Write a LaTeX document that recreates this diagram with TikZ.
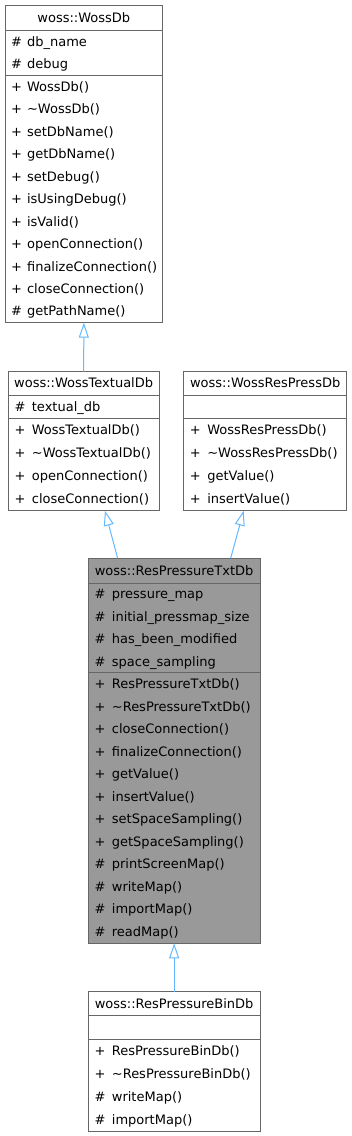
\documentclass[tikz,border=0pt]{standalone}
\usepackage{fontspec}
\setmainfont{DejaVu Sans}
\usetikzlibrary{positioning, arrows.meta}

\definecolor{borde}{HTML}{666666}
\definecolor{herencia}{HTML}{63B8FF}
\definecolor{resaltado}{HTML}{999999}

\tikzset{
	clase/.style={draw=borde, fill=white, anchor=north west, inner sep=0pt, outer sep=0pt, line width=1pt},
	division/.style={draw=borde, line width=1pt},
	titulo/.style={anchor=base, inner sep=0pt, font=\fontsize{13}{15}\selectfont},
	miembro/.style={anchor=base west, inner sep=0pt, font=\fontsize{13}{15}\selectfont},
	hereda/.style={draw=herencia, line width=1pt, -{Triangle[open, fill=white, length=15pt, width=10pt]}}
}

\begin{document}
\begin{tikzpicture}[x=1pt, y=-1pt]
	\useasboundingbox (0,0) rectangle (352,1136);

	% woss::WossDb
	\node[clase, minimum width=157.7, minimum height=317.7] (wossdb) at (5,5) {};
	\draw[division] ([yshift=-25.7]wossdb.north west) -- ([yshift=-25.7]wossdb.north east);
	\draw[division] ([yshift=-70.7]wossdb.north west) -- ([yshift=-70.7]wossdb.north east);
	\node[titulo] (wossdb-t) at ([yshift=-17.35]wossdb.north) {woss::WossDb};
	\foreach \s/\t [count=\i] in {\#/db\_name, \#/debug} {
		\node[miembro] (wossdb-a\i) at ([xshift=6, yshift={-(25.7+(\i-0.5)*22.5+4.5)}]wossdb.north west) {\s\hspace{5pt}\t};
	}
	\foreach \s/\t [count=\i] in {+/WossDb(), +/\textasciitilde WossDb(), +/setDbName(), +/getDbName(),
		+/setDebug(), +/isUsingDebug(), +/isValid(), +/openConnection(), +/finalizeConnection(),
		+/closeConnection(), \#/getPathName()} {
		\node[miembro] (wossdb-m\i) at ([xshift=6, yshift={-(70.7+(\i-0.5)*22.45+4.5)}]wossdb.north west) {\s\hspace{5pt}\t};
	}

	% woss::WossTextualDb
	\node[clase, minimum width=150.7, minimum height=139] (textual) at (8.3,371.7) {};
	\draw[division] ([yshift=-23.3]textual.north west) -- ([yshift=-23.3]textual.north east);
	\draw[division] ([yshift=-46.6]textual.north west) -- ([yshift=-46.6]textual.north east);
	\node[titulo] (textual-t) at ([yshift=-16.15]textual.north) {woss::WossTextualDb};
	\node[miembro] (textual-a1) at ([xshift=6, yshift={-(23.3+11.65+4.5)}]textual.north west) {\#\hspace{6.5pt}textual\_db};
	\foreach \s/\t [count=\i] in {+/WossTextualDb(), +/\textasciitilde WossTextualDb(),
		+/openConnection(), +/closeConnection()} {
		\node[miembro] (textual-m\i) at ([xshift=6, yshift={-(46.6+(\i-0.5)*23.1+4.5)}]textual.north west) {\s\hspace{6.5pt}\t};
	}

	% woss::WossResPressDb
	\node[clase, minimum width=163, minimum height=139] (respress) at (183.7,371.7) {};
	\draw[division] ([yshift=-23.3]respress.north west) -- ([yshift=-23.3]respress.north east);
	\draw[division] ([yshift=-46.6]respress.north west) -- ([yshift=-46.6]respress.north east);
	\node[titulo] (respress-t) at ([yshift=-16.15]respress.north) {woss::WossResPressDb};
	\foreach \s/\t [count=\i] in {+/WossResPressDb(), +/\textasciitilde WossResPressDb(),
		+/getValue(), +/insertValue()} {
		\node[miembro] (respress-m\i) at ([xshift=6, yshift={-(46.6+(\i-0.5)*23.1+4.5)}]respress.north west) {\s\hspace{6.5pt}\t};
	}

	% woss::ResPressureTxtDb (resaltada)
	\node[clase, fill=resaltado, minimum width=171.7, minimum height=385] (rptxt) at (88.3,558.3) {};
	\draw[division] ([yshift=-25]rptxt.north west) -- ([yshift=-25]rptxt.north east);
	\draw[division] ([yshift=-114.4]rptxt.north west) -- ([yshift=-114.4]rptxt.north east);
	\node[titulo] (rptxt-t) at ([yshift=-17]rptxt.north) {woss::ResPressureTxtDb};
	\foreach \s/\t [count=\i] in {\#/pressure\_map, \#/initial\_pressmap\_size,
		\#/has\_been\_modified, \#/space\_sampling} {
		\node[miembro] (rptxt-a\i) at ([xshift=6, yshift={-(25+(\i-0.5)*22.35+4.5)}]rptxt.north west) {\s\hspace{6.5pt}\t};
	}
	\foreach \s/\t [count=\i] in {+/ResPressureTxtDb(), +/\textasciitilde ResPressureTxtDb(),
		+/closeConnection(), +/finalizeConnection(), +/getValue(), +/insertValue(),
		+/setSpaceSampling(), +/getSpaceSampling(), \#/printScreenMap(), \#/writeMap(),
		\#/importMap(), \#/readMap()} {
		\node[miembro] (rptxt-m\i) at ([xshift=6, yshift={-(114.4+(\i-0.5)*22.55+4.5)}]rptxt.north west) {\s\hspace{6.5pt}\t};
	}

	% woss::ResPressureBinDb
	\node[clase, minimum width=171.7, minimum height=140] (rpbin) at (88.3,991.7) {};
	\draw[division] ([yshift=-24]rpbin.north west) -- ([yshift=-24]rpbin.north east);
	\draw[division] ([yshift=-47.3]rpbin.north west) -- ([yshift=-47.3]rpbin.north east);
	\node[titulo] (rpbin-t) at ([yshift=-16.5]rpbin.north) {woss::ResPressureBinDb};
	\foreach \s/\t [count=\i] in {+/ResPressureBinDb(), +/\textasciitilde ResPressureBinDb(),
		\#/writeMap(), \#/importMap()} {
		\node[miembro] (rpbin-m\i) at ([xshift=6, yshift={-(47.3+(\i-0.5)*23.2+4.5)}]rpbin.north west) {\s\hspace{6.5pt}\t};
	}

	% Herencia
	\draw[hereda] (textual.north) -- (wossdb.south);
	\draw[hereda] ([xshift=-56.5]rptxt.north) -- ([xshift=21.3]textual.south);
	\draw[hereda] ([xshift=56.5]rptxt.north) -- ([xshift=-21.5]respress.south);
	\draw[hereda] (rpbin.north) -- (rptxt.south);

\end{tikzpicture}
\end{document}
